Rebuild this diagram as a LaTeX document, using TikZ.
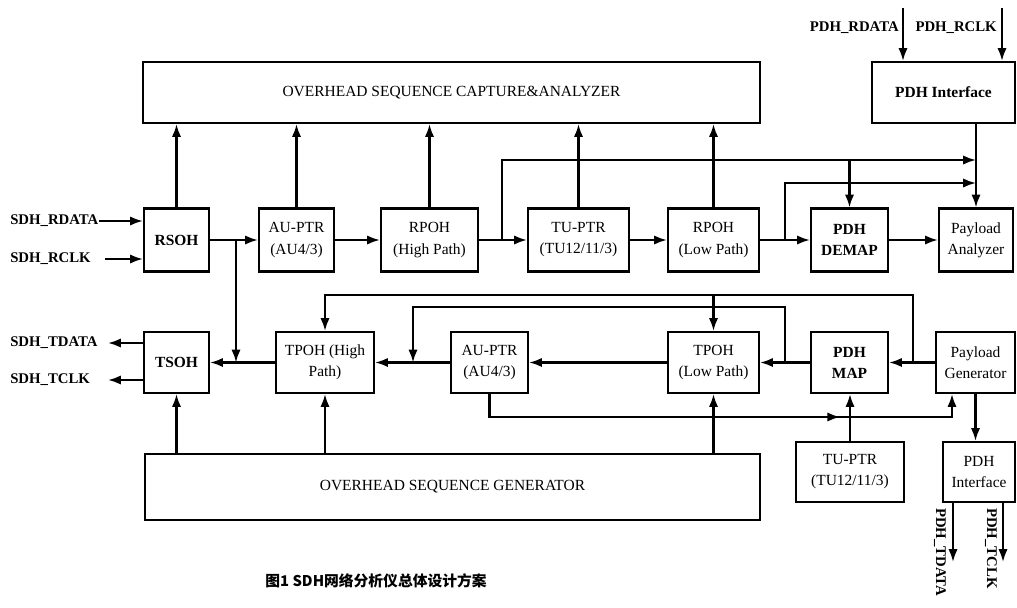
\documentclass[tikz,border=0pt]{standalone}
\usepackage{fontspec}
\setmainfont{Liberation Serif}
\newfontfamily\cjk{Noto Sans CJK SC}
\usetikzlibrary{arrows.meta,decorations.markings}
\newcommand{\boxfont}{\fontsize{11}{15}\selectfont}
\newcommand{\lblfont}{\fontsize{10.5}{12}\selectfont\bfseries}

\begin{document}
\begin{tikzpicture}[x=0.025cm,y=-0.025cm,
  box/.style={draw,line width=1.5pt,align=center,inner sep=1pt,font=\boxfont},
  bbox/.style={box,font=\boxfont\bfseries},
  sig/.style={line width=1.5pt,-{Latex[length=3.2mm,width=2.3mm]}},
  lbl/.style={inner sep=0pt,font=\lblfont}]
  \useasboundingbox (0,0) rectangle (1017,607);
  \node[box,minimum width=15.425cm,minimum height=1.525cm] (capt) at (451.5,92.5) {OVERHEAD SEQUENCE CAPTURE\&ANALYZER};
  \node[bbox,minimum width=3.575cm,minimum height=1.525cm] (pdhin) at (943.5,92.5) {PDH Interface};
  \node[bbox,minimum width=1.625cm,minimum height=1.575cm] (rsoh) at (176.5,240) {RSOH};
  \node[box,minimum width=1.875cm,minimum height=1.575cm] (aurx) at (296.5,240) {AU-PTR\\(AU4/3)};
  \node[box,minimum width=2.425cm,minimum height=1.575cm] (rpohh) at (429.5,240) {RPOH\\(High Path)};
  \node[box,minimum width=2.525cm,minimum height=1.575cm] (turx) at (578.5,240) {TU-PTR\\(TU12/11/3)};
  \node[box,minimum width=2.275cm,minimum height=1.575cm] (rpohl) at (713.5,240) {RPOH\\(Low Path)};
  \node[bbox,minimum width=1.925cm,minimum height=1.575cm] (demap) at (849.5,240) {PDH\\DEMAP};
  \node[box,minimum width=1.85cm,minimum height=1.575cm] (payan) at (976,240) {Payload\\Analyzer};
  \node[bbox,minimum width=1.625cm,minimum height=1.525cm] (tsoh) at (176.5,362.5) {TSOH};
  \node[box,minimum width=2.45cm,minimum height=1.525cm] (tpohh) at (325,362.5) {TPOH (High\\Path)};
  \node[box,minimum width=1.925cm,minimum height=1.525cm] (autx) at (489.5,362.5) {AU-PTR\\(AU4/3)};
  \node[box,minimum width=2.275cm,minimum height=1.525cm] (tpohl) at (713.5,362.5) {TPOH\\(Low Path)};
  \node[bbox,minimum width=1.925cm,minimum height=1.525cm] (pdhmap) at (849.5,362.5) {PDH\\MAP};
  \node[box,minimum width=1.975cm,minimum height=1.525cm] (payg) at (975.5,362.5) {Payload\\Generator};
  \node[box,minimum width=2.7cm,minimum height=1.5cm] (tutx) at (850,472) {TU-PTR\\(TU12/11/3)};
  \node[box,minimum width=1.8cm,minimum height=1.5cm] (pdhout) at (979,472) {PDH\\Interface};
  \node[box,minimum width=15.375cm,minimum height=1.65cm] (gen) at (452.5,487) {OVERHEAD SEQUENCE GENERATOR};

  \node[lbl,anchor=west] (rdata) at (10,221) {SDH\_RDATA};
  \node[lbl,anchor=west] (rclk) at (10,259) {SDH\_RCLK};
  \node[lbl,anchor=west] (tdata) at (10,343) {SDH\_TDATA};
  \node[lbl,anchor=west] (tclk) at (10,380) {SDH\_TCLK};
  \node[lbl,anchor=east] (prdata) at (899,28) {PDH\_RDATA};
  \node[lbl,anchor=east] (prclk) at (997,28) {PDH\_RCLK};
  \node[lbl,anchor=west,rotate=-90] (ptdata) at (940,508) {PDH\_TDATA};
  \node[lbl,anchor=west,rotate=-90] (ptclk) at (991,508) {PDH\_TCLK};
  \node[font=\cjk\bfseries\fontsize{10.5}{12}\selectfont] (cap) at (376,581) {图1 SDH网络分析仪总体设计方案};

  \coordinate (rclkin) at (105,259); \coordinate (tdout) at (108,343); \coordinate (tclkout) at (108,380);
  \coordinate (rdin) at (903,8); \coordinate (rcin) at (1002,8);
  \coordinate (tdo) at (953,562); \coordinate (tco) at (1003,562);
  \draw[sig] (rdata.east) -- (rdata.east -| rsoh.west);
  \draw[sig] (rclkin) -- (rclkin -| rsoh.west);
  \draw[sig] (tdout -| tsoh.west) -- (tdout);
  \draw[sig] (tclkout -| tsoh.west) -- (tclkout);
  \draw[sig] (rdin) -- (rdin |- pdhin.north); \draw[sig] (rcin) -- (rcin |- pdhin.north);
  \draw[sig] (tdo |- pdhout.south) -- (tdo); \draw[sig] (tco |- pdhout.south) -- (tco);

  \draw[sig] (rsoh) -- (aurx); \draw[sig] (aurx) -- (rpohh); \draw[sig] (rpohh) -- (turx);
  \draw[sig] (turx) -- (rpohl); \draw[sig] (rpohl) -- (demap); \draw[sig] (demap) -- (payan);
  \draw[sig] (rsoh.north) -- (rsoh.north |- capt.south); \draw[sig] (aurx.north) -- (aurx.north |- capt.south);
  \draw[sig] (rpohh.north) -- (rpohh.north |- capt.south); \draw[sig] (turx.north) -- (turx.north |- capt.south);
  \draw[sig] (rpohl.north) -- (rpohl.north |- capt.south);
  \draw[sig] (pdhin.south -| payan) -- (payan.north);
  \coordinate (b1) at (236,240); \coordinate (b2) at (502,240); \coordinate (b3) at (785,240);
  \coordinate (h2) at (976,160); \coordinate (h3) at (976,183);
  \draw[sig] (b1) -- (b1 |- tsoh.east);
  \draw[sig] (b2) |- (h2); \draw[sig] (demap.north |- h2) -- (demap.north);
  \draw[sig] (b3) |- (h3);

  \draw[sig] (tpohh) -- (tsoh); \draw[sig] (autx) -- (tpohh); \draw[sig] (tpohl) -- (autx);
  \draw[sig] (pdhmap) -- (tpohl); \draw[sig] (payg) -- (pdhmap);
  \draw[sig] (gen.north -| tsoh) -- (tsoh.south); \draw[sig] (gen.north -| tpohh) -- (tpohh.south);
  \draw[sig] (gen.north -| tpohl) -- (tpohl.south);
  \draw[sig] (tutx.north) -- (tutx.north |- pdhmap.south);
  \draw[sig] (payg.south) -- (payg.south |- pdhout.north);
  \coordinate (ba) at (913,362.5); \coordinate (ua) at (913,295);
  \coordinate (bb) at (785,362.5); \coordinate (ub) at (413,307);
  \coordinate (uc) at (952,417);
  \draw[sig] (ba) -- (ua) -- (ua -| tpohh.north) -- (tpohh.north);
  \draw[sig] (ua -| tpohl.north) -- (tpohl.north);
  \draw[sig] (bb) |- (ub) -- (ub |- autx.west);
  \draw[sig,postaction={decorate},decoration={markings,
      mark=at position 0.735 with {\arrow{Latex[length=3.2mm,width=2.3mm]}}}]
    (autx.south) |- (uc) -- (uc |- payg.south);
\end{tikzpicture}
\end{document}
